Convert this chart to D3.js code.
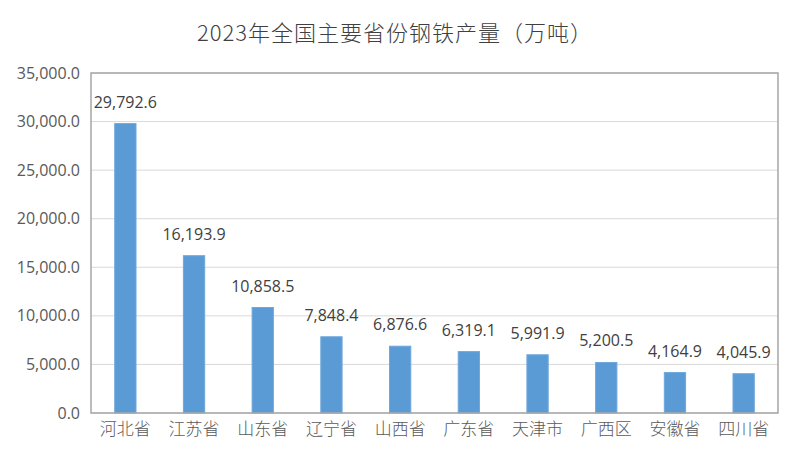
<!DOCTYPE html>
<html>
<head>
<meta charset="utf-8">
<script src="https://cdn.jsdelivr.net/npm/d3@7"></script>
<style>
  body { margin: 0; background: #fff; }
</style>
</head>
<body>
<div id="chart"></div>
<script>
// data
var provinces = ["河北省", "江苏省", "山东省", "辽宁省", "山西省", "广东省", "天津市", "广西区", "安徽省", "四川省"];
var output = [29792.6, 16193.9, 10858.5, 7848.4, 6876.6, 6319.1, 5991.9, 5200.5, 4164.9, 4045.9];
var yTicks = [0, 5000, 10000, 15000, 20000, 25000, 30000, 35000];
var title = "2023年全国主要省份钢铁产量（万吨）";

var width = 800, height = 464;
var margin = { top: 73, right: 22, bottom: 51, left: 91 };
var innerW = width - margin.left - margin.right;
var innerH = height - margin.top - margin.bottom;

var fmt = d3.format(",.1f");

var svg = d3.select("#chart").append("svg")
  .attr("width", width)
  .attr("height", height);

svg.append("text")
  .attr("x", 395)
  .attr("y", 41)
  .attr("text-anchor", "middle")
  .style("font-family", "'Noto Sans CJK SC', 'Noto Sans', sans-serif")
  .style("font-size", "22px")
  .style("font-weight", "300")
  .style("letter-spacing", "1px")
  .style("fill", "#404040")
  .text(title);

var g = svg.append("g")
  .attr("transform", "translate(" + margin.left + "," + margin.top + ")");

var x = d3.scaleBand().domain(provinces).range([0, innerW]).paddingInner(0.69).paddingOuter(0.345);
var y = d3.scaleLinear().domain([0, 35000]).range([innerH, 0]);

// gridlines
g.selectAll(".grid")
  .data(yTicks)
  .enter().append("line")
  .attr("x1", 0).attr("x2", innerW)
  .attr("y1", function(d) { return y(d); })
  .attr("y2", function(d) { return y(d); })
  .style("stroke", "#d9d9d9")
  .style("stroke-width", 1);

// y axis labels
var yAxis = g.append("g")
  .call(d3.axisLeft(y).tickValues(yTicks).tickFormat(fmt).tickSize(0).tickPadding(11));
yAxis.select(".domain").remove();
yAxis.selectAll("text")
  .style("font-family", "'Open Sans', sans-serif")
  .style("font-size", "16px")
  .style("fill", "#595959");

// bars
g.selectAll(".bar")
  .data(output)
  .enter().append("rect")
  .attr("class", "bar")
  .attr("x", function(d, i) { return x(provinces[i]); })
  .attr("width", x.bandwidth())
  .attr("y", function(d) { return y(d); })
  .attr("height", function(d) { return innerH - y(d); })
  .style("fill", "#5b9bd5")
  .style("stroke", "#6fa8dc")
  .style("stroke-width", 1);

// value labels
g.selectAll(".label")
  .data(output)
  .enter().append("text")
  .attr("x", function(d, i) { return x(provinces[i]) + x.bandwidth() / 2; })
  .attr("y", function(d) { return y(d) - 16; })
  .attr("text-anchor", "middle")
  .style("font-family", "'Open Sans', sans-serif")
  .style("font-size", "16px")
  .style("fill", "#404040")
  .text(function(d) { return fmt(d); });

// x axis labels
var xAxis = g.append("g")
  .attr("transform", "translate(0," + innerH + ")")
  .call(d3.axisBottom(x).tickSize(0).tickPadding(10));
xAxis.select(".domain").remove();
xAxis.selectAll("text")
  .style("font-family", "'Noto Sans CJK SC', sans-serif")
  .style("font-size", "17px")
  .style("font-weight", "300")
  .style("fill", "#595959");

// frame
g.append("rect")
  .attr("x", 0).attr("y", 0)
  .attr("width", innerW).attr("height", innerH)
  .style("fill", "none")
  .style("stroke", "#a6a6a6")
  .style("stroke-width", 1.5);
</script>
</body>
</html>
